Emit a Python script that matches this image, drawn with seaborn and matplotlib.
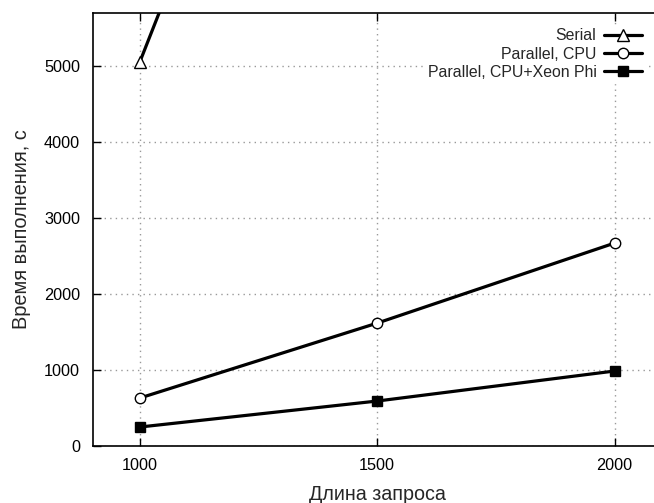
import matplotlib
matplotlib.use("Agg")
import matplotlib.pyplot as plt
import seaborn as sns
import pandas as pd

lengths = [1000, 1500, 2000]
serial = [5060, 13000, 21000]
par_cpu = [632, 1618, 2671]
par_phi = [250, 592, 987]
series_names = ["Serial", "Parallel, CPU", "Parallel, CPU+Xeon Phi"]
x_ticks = [1000, 1500, 2000]
y_ticks = [0, 1000, 2000, 3000, 4000, 5000]

sns.set_style("ticks")
plt.rcParams['font.family'] = ['Liberation Sans', 'DejaVu Sans']

fig = plt.figure(figsize=(6.54, 5.03), dpi=100)
ax = fig.add_axes([92.5 / 654, 57 / 503, (662 - 92.5) / 654, (446 - 13) / 503])

df = pd.DataFrame({
    "x": lengths * 3,
    "y": serial + par_cpu + par_phi,
    "s": [series_names[0]] * 3 + [series_names[1]] * 3 + [series_names[2]] * 3,
})

markers = {series_names[0]: "^", series_names[1]: "o", series_names[2]: "s"}
sizes = {series_names[0]: 9, series_names[1]: 7.5, series_names[2]: 7}
faces = {series_names[0]: "white", series_names[1]: "white", series_names[2]: "black"}

for name in series_names:
    sub = df[df["s"] == name]
    sns.lineplot(data=sub, x="x", y="y", ax=ax, color="black", linewidth=2.3,
                 marker=markers[name], markersize=sizes[name],
                 markerfacecolor=faces[name], markeredgecolor="black",
                 markeredgewidth=1.0, label=name, clip_on=True, zorder=3)

ax.set_xlim(900, 2100)
ax.set_ylim(0, 5700)
ax.set_xticks(x_ticks)
ax.set_yticks(y_ticks)
ax.tick_params(direction="in", length=6, width=1, top=True, right=True,
               labelsize=11.7, pad=9, colors="black")
ax.grid(True, color="#999999", linestyle=(0, (1, 3)), linewidth=1)
for sp in ax.spines.values():
    sp.set_linewidth(1.2)
    sp.set_color("black")

ax.set_xlabel("Длина запроса", fontsize=14.2, labelpad=8)
ax.set_ylabel("Время выполнения, с", fontsize=14.4, labelpad=9)

leg = ax.legend(loc="upper right", bbox_to_anchor=(0.985, 0.99), markerfirst=False,
                frameon=True, fontsize=11.4, handlelength=2.4, labelspacing=0.2,
                borderpad=0.2, handletextpad=0.5)
leg.get_frame().set_edgecolor("white")
leg.get_frame().set_facecolor("white")
leg.get_frame().set_alpha(1)
for t in leg.get_texts():
    t.set_ha("right")

fig.savefig("out.png", dpi=100)
